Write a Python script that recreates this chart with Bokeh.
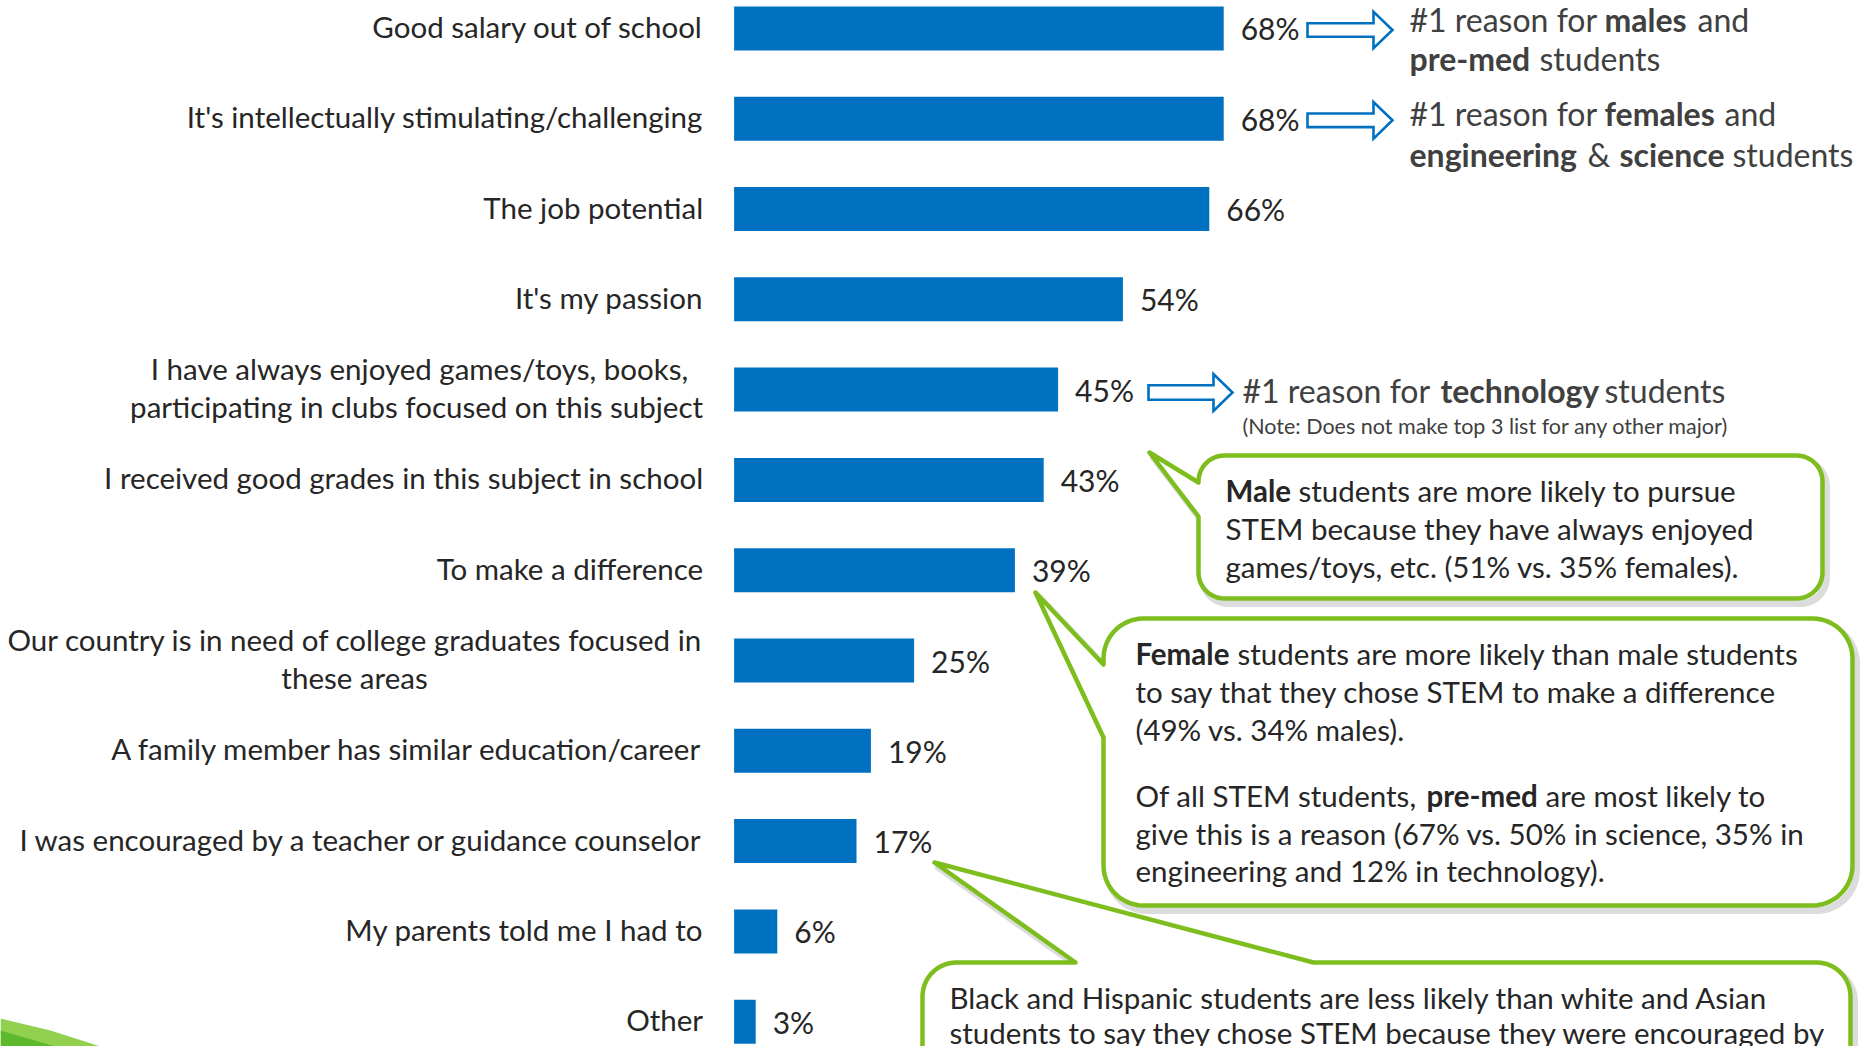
import numpy as np
from bokeh.plotting import figure
from bokeh.models import Range1d, ColumnDataSource
from bokeh.embed import file_html
from bokeh.resources import INLINE
from bokeh.core.properties import value

# ---------------- data ----------------
categories = [
    "Good salary out of school",
    "It's intellectually stimulating/challenging",
    "The job potential",
    "It's my passion",
    "I have always enjoyed games/toys, books,\nparticipating in clubs focused on this subject",
    "I received good grades in this subject in school",
    "To make a difference",
    "Our country is in need of college graduates focused in\nthese areas",
    "A family member has similar education/career",
    "I was encouraged by a teacher or guidance counselor",
    "My parents told me I had to",
    "Other",
]
values = [68, 68, 66, 54, 45, 43, 39, 25, 19, 17, 6, 3]
value_labels = [f"{v}%" for v in values]

# ---------------- geometry (reference-pixel based) ----------------
W, H = 1864, 1046
PX_PER_PCT = 7.2
X0_REF = 733.6           # bar origin in the picture
ROW0_REF = 27.9          # first row centre in the picture
ROW_STEP = 90.3


def X(px):
    return (px - X0_REF) / PX_PER_PCT


def Y(py):
    return (py - ROW0_REF) / ROW_STEP


FONT = value("Lato")
LABEL_COLOR = "#262626"
NOTE_COLOR = "#404040"
BLUE = "#0070C0"
GREEN = "#7DBE1E"

p = figure(
    width=W, height=H,
    x_range=Range1d(X(0), X(W)),
    y_range=Range1d(Y(H), Y(0)),
    output_backend="svg", toolbar_location=None,
    min_border=0, outline_line_color=None,
)
p.axis.visible = False
p.grid.visible = False
p.background_fill_color = "white"
p.border_fill_color = "white"

idx = list(range(len(categories)))

# bars
p.hbar(y=idx, left=0, right=values, height=44 / ROW_STEP, color=BLUE, line_color=None)

# value labels
p.text(x=values, y=idx, text=value_labels, x_offset=17, y_offset=0,
       text_baseline="middle", text_align="left", text_font=FONT,
       text_font_size="30px", text_color=LABEL_COLOR)

# category labels (multi-line split)
lab_x, lab_y, lab_t, lab_dx = [], [], [], []
cen_x, cen_y, cen_t = [], [], []
LINE_GAP = 38 / ROW_STEP
for i, cat in enumerate(categories):
    lines = cat.split("\n")
    n = len(lines)
    for j, ln in enumerate(lines):
        yy = i + (j - (n - 1) / 2) * LINE_GAP
        if i == 7 and j == 1:
            cen_x.append(X(354)); cen_y.append(yy); cen_t.append(ln)
        else:
            lab_x.append(0); lab_y.append(yy); lab_t.append(ln)
            lab_dx.append(-46 if (i == 4 and j == 0) else -31)

p.text(x=lab_x, y=lab_y, text=lab_t, x_offset=lab_dx, y_offset=-2,
       text_baseline="middle", text_align="right", text_font=FONT,
       text_font_size="29.5px", text_color=LABEL_COLOR)
p.text(x=cen_x, y=cen_y, text=cen_t, y_offset=-2,
       text_baseline="middle", text_align="center", text_font=FONT,
       text_font_size="29.5px", text_color=LABEL_COLOR)


# ---------------- block arrows ----------------
def block_arrow(xt, yc, hs, xh, hh, xtip):
    pts = [(xt, yc - hs), (xh, yc - hs), (xh, yc - hh), (xtip, yc),
           (xh, yc + hh), (xh, yc + hs), (xt, yc + hs)]
    return [X(a) for a, b in pts], [Y(b) for a, b in pts]


for (xt, yc, hs, xh, hh, xtip) in [
    (1307, 29.5, 6.8, 1373, 18.3, 1392),
    (1307, 119.8, 6.8, 1373, 18.3, 1392),
    (1148, 392.0, 7.3, 1213, 18.5, 1232),
]:
    xs, ys = block_arrow(xt, yc, hs, xh, hh, xtip)
    p.patch(xs, ys, fill_color="white", line_color=BLUE, line_width=2.6,
            line_join="miter")


# ---------------- callouts ----------------
def callout(x0, y0, x1, y1, r, tail=None, dx=0.0, dy=0.0):
    pts = []

    def arc(cx, cy, a0, a1, n=14):
        for t in np.linspace(a0, a1, n):
            pts.append((cx + r * np.cos(t), cy + r * np.sin(t)))

    pts.append((x0 + r, y0))
    if tail and tail[0] == "top":
        _, a, b, tx, ty = tail
        pts += [(a, y0), (tx, ty), (b, y0)]
    arc(x1 - r, y0 + r, -np.pi / 2, 0)
    arc(x1 - r, y1 - r, 0, np.pi / 2)
    arc(x0 + r, y1 - r, np.pi / 2, np.pi)
    if tail and tail[0] == "left":
        _, a, b, tx, ty = tail
        pts += [(x0, b), (tx, ty), (x0, a)]
    arc(x0 + r, y0 + r, np.pi, 1.5 * np.pi)
    return [X(a + dx) for a, b in pts], [Y(b + dy) for a, b in pts]


callouts = [
    (922, 962, 1850, 1140, 34, ("top", 1075, 1313, 934, 862)),
    (1103, 618, 1852, 905, 40, ("left", 664, 737, 1035, 592)),
    (1198, 455, 1822, 598, 26, ("left", 482, 516, 1149, 452)),
]
for (x0, y0, x1, y1, r, tail) in callouts:
    sx, sy = callout(x0, y0, x1, y1, r, tail, dx=4, dy=5)
    p.patch(sx, sy, fill_color=None, line_color="#9a9a9a", line_alpha=0.35,
            line_width=7, line_join="round")
    xs, ys = callout(x0, y0, x1, y1, r, tail)
    p.patch(xs, ys, fill_color="white", line_color=GREEN, line_width=4.5,
            line_join="round")

# ---------------- annotation texts ----------------
segments = [
    # text, x, y (picture pixels), bold, size, colour
    ("#1 reason for", 1409, 19, False, "32px", NOTE_COLOR),
    ("males", 1604, 19, True, "32px", NOTE_COLOR),
    ("and", 1697, 19, False, "32px", NOTE_COLOR),
    ("pre-med", 1409, 58, True, "32px", NOTE_COLOR),
    ("students", 1539, 58, False, "32px", NOTE_COLOR),
    ("#1 reason for", 1409, 113, False, "32px", NOTE_COLOR),
    ("females", 1604, 113, True, "32px", NOTE_COLOR),
    ("and", 1724, 113, False, "32px", NOTE_COLOR),
    ("engineering", 1409, 154, True, "32px", NOTE_COLOR),
    ("&", 1587, 154, False, "32px", NOTE_COLOR),
    ("science", 1619, 154, True, "32px", NOTE_COLOR),
    ("students", 1732, 154, False, "32px", NOTE_COLOR),
    ("#1 reason for", 1242, 390, False, "32px", NOTE_COLOR),
    ("technology", 1440, 390, True, "32px", NOTE_COLOR),
    ("students", 1604, 390, False, "32px", NOTE_COLOR),
    ("(Note: Does not make top 3 list for any other major)", 1242, 425, False, "21.5px", NOTE_COLOR),
    # callout 1
    ("Male", 1225, 490, True, "29.5px", LABEL_COLOR),
    ("students are more likely to pursue", 1298, 490, False, "29.5px", LABEL_COLOR),
    ("STEM because they have always enjoyed", 1225, 528, False, "29.5px", LABEL_COLOR),
    ("games/toys, etc. (51% vs. 35% females).", 1225, 566, False, "29.5px", LABEL_COLOR),
    # callout 2
    ("Female", 1135, 653, True, "29.5px", LABEL_COLOR),
    ("students are more likely than male students", 1237, 653, False, "29.5px", LABEL_COLOR),
    ("to say that they chose STEM to make a difference", 1135, 691, False, "29.5px", LABEL_COLOR),
    ("(49% vs. 34% males).", 1135, 729, False, "29.5px", LABEL_COLOR),
    ("Of all STEM students,", 1135, 795, False, "29.5px", LABEL_COLOR),
    ("pre-med", 1426, 795, True, "29.5px", LABEL_COLOR),
    ("are most likely to", 1545, 795, False, "29.5px", LABEL_COLOR),
    ("give this is a reason (67% vs. 50% in science, 35% in", 1135, 833, False, "29.5px", LABEL_COLOR),
    ("engineering and 12% in technology).", 1135, 870, False, "29.5px", LABEL_COLOR),
    # callout 3
    ("Black and Hispanic students are less likely than white and Asian", 949, 997, False, "29.5px", LABEL_COLOR),
    ("students to say they chose STEM because they were encouraged by", 949, 1032, False, "29.5px", LABEL_COLOR),
]
groups = {}
for t, xp, yp, bold, size, col in segments:
    key = (bold, size, col)
    g = groups.setdefault(key, dict(x=[], y=[], text=[]))
    g["x"].append(X(xp)); g["y"].append(Y(yp)); g["text"].append(t)
for (bold, size, col), g in groups.items():
    p.text(x="x", y="y", text="text", source=ColumnDataSource(g),
           text_baseline="middle", text_align="left", text_font=FONT,
           text_font_size=size, text_color=col,
           text_font_style="bold" if bold else "normal")

# decorative green swoosh bottom-left
p.patch([X(0), X(50), X(100), X(0)], [Y(1018), Y(1030), Y(1046), Y(1046)],
        fill_color="#92D050", line_color=None)
p.patch([X(0), X(55), X(0)], [Y(1030), Y(1046), Y(1046)],
        fill_color="#5DB82B", line_color=None)

open("out.html", "w").write(file_html(p, INLINE))
